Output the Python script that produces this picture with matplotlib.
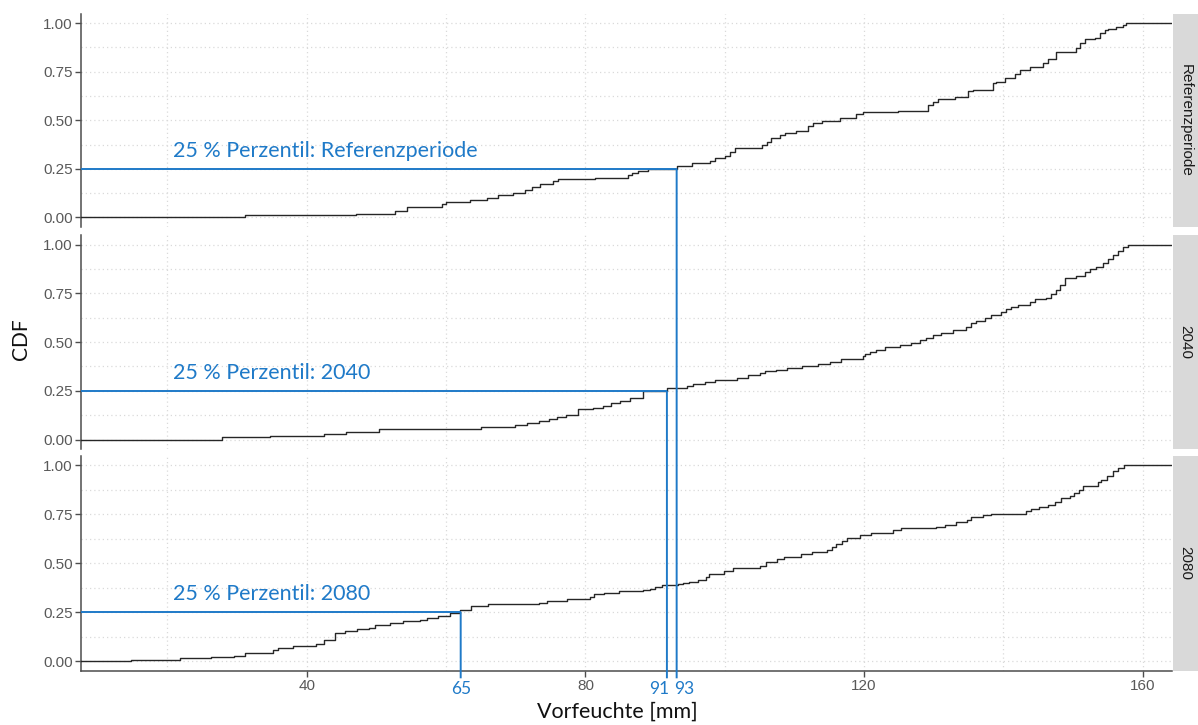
import numpy as np
import matplotlib
matplotlib.use("Agg")
import matplotlib.pyplot as plt
from matplotlib.patches import ConnectionPatch

# ---------------- data ----------------
panels = ["Referenzperiode", "2040", "2080"]

ref_x = [31.15, 47.07, 52.67, 54.35, 59.37, 59.99, 63.43, 65.83, 67.45, 69.6,
         71.32, 72.28, 73.47, 75.34, 76.05, 81.36, 86.1, 86.63, 87.53, 88.97,
         93.08, 95.24, 97.87, 98.58, 100.02, 100.74, 101.46, 105.28, 106.0, 106.71,
         107.9, 108.62, 110.3, 111.96, 112.68, 113.89, 116.51, 118.91, 119.86, 124.88,
         129.18, 129.9, 130.62, 133.01, 134.92, 135.64, 138.51, 139.0, 140.19, 141.62,
         142.34, 143.77, 145.68, 146.4, 147.6, 150.47, 150.95, 151.67, 153.1, 153.82,
         154.53, 155.01, 156.21, 157.16, 157.65]
ref_y = [0.01, 0.018, 0.03, 0.053, 0.07, 0.079, 0.091, 0.10, 0.117, 0.126,
         0.139, 0.156, 0.169, 0.186, 0.196, 0.205, 0.22, 0.23, 0.239, 0.249,
         0.263, 0.28, 0.291, 0.303, 0.317, 0.337, 0.355, 0.372, 0.389, 0.411,
         0.423, 0.432, 0.446, 0.471, 0.484, 0.496, 0.513, 0.532, 0.542, 0.549,
         0.578, 0.595, 0.609, 0.621, 0.650, 0.656, 0.690, 0.698, 0.719, 0.738,
         0.759, 0.774, 0.797, 0.816, 0.850, 0.871, 0.897, 0.917, 0.926, 0.948,
         0.965, 0.971, 0.979, 0.991, 1.0]

p2040_x = [27.8, 34.73, 42.5, 45.65, 50.4, 65.05, 69.9, 71.6, 73.3, 74.75,
           75.97, 77.17, 78.88, 81.06, 82.51, 83.73, 84.94, 86.38, 88.34, 91.72,
           94.52, 95.47, 97.15, 98.58, 101.7, 103.36, 105.04, 105.75, 107.43, 108.87,
           111.02, 113.4, 115.08, 116.76, 117.24, 119.86, 120.1, 120.82, 121.78, 122.97,
           125.12, 126.8, 127.99, 128.95, 129.9, 131.1, 132.77, 134.69, 135.41, 136.13,
           137.32, 138.28, 139.71, 140.43, 141.15, 142.09, 143.77, 144.49, 146.17, 146.89,
           147.6, 148.08, 148.8, 150.47, 151.67, 152.38, 153.34, 154.29, 155.01, 155.72,
           156.44, 157.16, 157.88]
p2040_y = [0.0105, 0.016, 0.026, 0.038, 0.052, 0.063, 0.073, 0.085, 0.094, 0.103,
           0.113, 0.125, 0.157, 0.164, 0.174, 0.186, 0.20, 0.213, 0.247, 0.266,
           0.274, 0.283, 0.293, 0.304, 0.316, 0.329, 0.34, 0.352, 0.357, 0.365,
           0.376, 0.388, 0.395, 0.412, 0.415, 0.429, 0.441, 0.449, 0.461, 0.473,
           0.485, 0.497, 0.509, 0.521, 0.535, 0.547, 0.561, 0.576, 0.595, 0.607,
           0.621, 0.641, 0.655, 0.667, 0.681, 0.689, 0.707, 0.72, 0.727, 0.744,
           0.767, 0.792, 0.827, 0.839, 0.858, 0.873, 0.887, 0.904, 0.926, 0.947,
           0.967, 0.985, 1.0]

p2080_x = [14.77, 21.8, 26.3, 29.6, 31.07, 35.1, 35.9, 37.96, 41.28, 42.47,
           44.13, 45.56, 47.22, 48.88, 49.83, 51.97, 53.87, 56.25, 57.2, 58.86,
           60.52, 61.95, 63.6, 65.99, 73.35, 74.54, 77.39, 80.7, 81.3, 82.65,
           84.76, 88.2, 89.26, 90.05, 90.95, 93.23, 94.0, 94.8, 96.14, 97.3,
           97.72, 99.84, 101.16, 105.13, 105.93, 107.51, 108.57, 110.95, 112.54, 114.66,
           115.45, 115.98, 116.77, 117.57, 119.42, 121.0, 122.86, 124.18, 125.24, 130.26,
           131.59, 133.17, 134.76, 135.29, 137.14, 138.2, 143.23, 144.02, 145.08, 146.4,
           147.46, 148.25, 149.58, 150.11, 150.9, 151.43, 153.54, 154.07, 154.87, 155.66,
           156.46, 157.25]
p2080_y = [0.007, 0.015, 0.02, 0.026, 0.043, 0.055, 0.065, 0.079, 0.089, 0.106,
           0.144, 0.154, 0.162, 0.171, 0.186, 0.195, 0.203, 0.212, 0.22, 0.231,
           0.243, 0.26, 0.282, 0.289, 0.294, 0.308, 0.315, 0.328, 0.342, 0.349,
           0.357, 0.364, 0.369, 0.379, 0.386, 0.391, 0.397, 0.403, 0.414, 0.427,
           0.444, 0.458, 0.477, 0.485, 0.508, 0.52, 0.533, 0.545, 0.556, 0.568,
           0.585, 0.598, 0.614, 0.627, 0.644, 0.653, 0.656, 0.667, 0.679, 0.687,
           0.697, 0.708, 0.721, 0.735, 0.745, 0.752, 0.764, 0.776, 0.786, 0.797,
           0.81, 0.832, 0.844, 0.858, 0.875, 0.896, 0.913, 0.926, 0.947, 0.969,
           0.986, 1.0]

series_x = [ref_x, p2040_x, p2080_x]
series_y = [ref_y, p2040_y, p2080_y]

pct_level = 0.25
pct_pos = [93.1, 91.7, 62.1]          # where the 25 % lines sit in the picture
pct_labels = ["93", "91", "65"]
annot_texts = ["25 % Perzentil: Referenzperiode", "25 % Perzentil: 2040",
               "25 % Perzentil: 2080"]

x_major = [40, 80, 120, 160]
x_minor = [20, 60, 100, 140]
y_major = [0.0, 0.25, 0.5, 0.75, 1.0]
y_minor = [0.125, 0.375, 0.625, 0.875]

# ---------------- styling ----------------
W, H = 1198, 725
BLUE = "#1F7AC8"
TICKC = "#595959"
LATO = "Lato"
ARIAL = "Liberation Sans"
XLIM = (7.6, 164.2)
YLIM = (-0.05, 1.05)

fig = plt.figure(figsize=(W / 100, H / 100), dpi=100)
fig.patch.set_facecolor("white")

left_px, right_px = 81, 1172
panel_px = [(13.5, 227.0), (234.75, 449.25), (455.5, 670.8)]

axes = []
for i, (t, b) in enumerate(panel_px):
    ax = fig.add_axes([left_px / W, 1 - b / H, (right_px - left_px) / W, (b - t) / H])
    axes.append(ax)
    ax.set_xlim(*XLIM)
    ax.set_ylim(*YLIM)
    ax.set_facecolor("white")
    for s in ["top", "right", "bottom"]:
        ax.spines[s].set_visible(False)
    ax.spines["left"].set_color("#4D4D4D")
    ax.spines["left"].set_linewidth(1.1)
    if i == 2:
        ax.spines["bottom"].set_visible(True)
        ax.spines["bottom"].set_color("#4D4D4D")
        ax.spines["bottom"].set_linewidth(1.1)
    ax.set_xticks(x_major)
    ax.set_xticks(x_minor, minor=True)
    ax.set_yticks(y_major)
    ax.set_yticks(y_minor, minor=True)
    ax.set_yticklabels([f"{v:.2f}" for v in y_major], fontfamily=ARIAL,
                       fontsize=11, color=TICKC)
    ax.tick_params(axis="y", which="major", length=4, width=1, color="#4D4D4D", pad=2)
    ax.tick_params(axis="both", which="minor", length=0)
    if i == 2:
        ax.set_xticklabels([str(v) for v in x_major], fontfamily=ARIAL,
                           fontsize=11, color=TICKC)
        ax.tick_params(axis="x", which="major", length=4, width=1, color="#4D4D4D", pad=2)
    else:
        ax.tick_params(axis="x", which="both", length=0, labelbottom=False)
    ax.grid(True, which="both", color="#DADADA", linestyle=(0, (1, 2.4)), linewidth=0.9)
    ax.set_axisbelow(True)

    xs = [XLIM[0] - 50] + series_x[i] + [XLIM[1] + 50]
    ys = [0.0] + series_y[i] + [1.0]
    ax.step(xs, ys, where="post", color="#262626", linewidth=1.0, zorder=3)

    # horizontal percentile line
    ax.plot([XLIM[0], pct_pos[i]], [pct_level, pct_level], color=BLUE,
            linewidth=1.4, zorder=4, solid_capstyle="butt")
    ax.text(20.8, 0.31, annot_texts[i], color=BLUE, fontfamily=LATO,
            fontsize=15.5, ha="left", va="baseline", zorder=5)

    # strip
    sax = fig.add_axes([1173 / W, 1 - b / H, (W - 1173) / W, (b - t) / H])
    sax.set_facecolor("#D9D9D9")
    sax.set_xticks([])
    sax.set_yticks([])
    for s in sax.spines.values():
        s.set_visible(False)
    sax.text(0.5, 0.5, panels[i], rotation=-90, ha="center", va="center",
             fontfamily=ARIAL, fontsize=11, color="#1A1A1A", transform=sax.transAxes)

# vertical percentile lines down through the lower panels
bax = axes[2]
for i in range(3):
    con = ConnectionPatch(xyA=(pct_pos[i], pct_level), coordsA=axes[i].transData,
                          xyB=(pct_pos[i], -7.5 / 215.3), coordsB=bax.get_xaxis_transform(),
                          color=BLUE, linewidth=1.4, zorder=6)
    con.set_capstyle("butt")
    fig.add_artist(con)

# blue tick labels
offsets = {"93": (-2.7, "left"), "91": (2.6, "right"), "65": (0.0, "center")}
for pos, lab in zip(pct_pos, pct_labels):
    dx, ha = offsets[lab]
    bax.annotate(lab, xy=(pos, 0), xycoords=bax.get_xaxis_transform(),
                 xytext=(dx, -18), textcoords="offset pixels", ha=ha, va="center",
                 color=BLUE, fontfamily=LATO, fontsize=12.5, annotation_clip=False)

fig.text(617 / W, 1 - 712 / H, "Vorfeuchte [mm]", ha="center", va="center",
         fontfamily=LATO, fontsize=15.5, color="#111111")
fig.text(20.5 / W, 1 - 339 / H, "CDF", ha="center", va="center", rotation=90,
         fontfamily=LATO, fontsize=15, color="#111111")

fig.savefig("out.png", dpi=100, facecolor="white")
